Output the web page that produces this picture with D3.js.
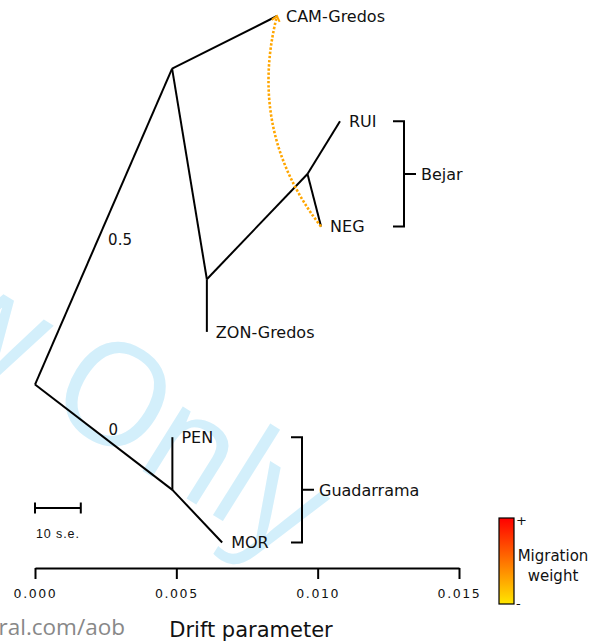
<!DOCTYPE html>
<html>
<head>
<meta charset="utf-8">
<script src="https://cdn.jsdelivr.net/npm/d3@7/dist/d3.min.js"></script>
<style>
  html, body { margin: 0; padding: 0; background: #fff; }
  svg { display: block; }
</style>
</head>
<body>
<svg id="chart" width="591" height="644"></svg>
<script>
// ---------- DATA ----------
const nodeIds   = ["root", "n1", "n2", "n3", "n4", "CAM-Gredos", "RUI", "NEG", "ZON-Gredos", "PEN", "MOR"];
const nodeDrift = [0, 0.00485, 0.00608, 0.00964, 0.00486, 0.00856, 0.01079, 0.01012, 0.00608, 0.00486, 0.00662];
const nodeRow   = [3.5, 0.5, 2.5, 1.5, 4.5, 0, 1, 2, 3, 4, 5];
const tipNames  = ["CAM-Gredos", "RUI", "NEG", "ZON-Gredos", "PEN", "MOR"];

const edgeFrom = ["root", "n1", "n1", "n2", "n2", "n3", "n3", "root", "n4", "n4"];
const edgeTo   = ["n1", "CAM-Gredos", "n2", "n3", "ZON-Gredos", "RUI", "NEG", "n4", "PEN", "MOR"];

const edgeLabelText = ["0.5", "0"];
const edgeLabelFrom = ["root", "root"];
const edgeLabelTo   = ["n1", "n4"];

const migFrom   = ["NEG"];
const migTo     = ["CAM-Gredos"];
const migWeight = [0.28];

const groupNames   = ["Bejar", "Guadarrama"];
const groupMembers = [["RUI", "NEG"], ["PEN", "MOR"]];

const xTicks = [0.000, 0.005, 0.010, 0.015];
const seValue = 0.000162;   // one standard error in drift units
const seMultiple = 10;

// ---------- LAYOUT / STYLE ----------
const svg = d3.select("#chart");
const x = d3.scaleLinear().domain([0, 0.015]).range([35, 459]);
const y = d3.scaleLinear().domain([0, 5]).range([16, 542.5]);
const wColor = d3.scaleLinear().domain([0, 1]).range(["#FFE600", "#FF0000"]);
const LABEL_FONT = "'DejaVu Sans', Verdana, sans-serif";

const pos = {};
nodeIds.forEach((id, i) => { pos[id] = [x(nodeDrift[i]), y(nodeRow[i])]; });

// watermark (background)
const wm = svg.append("g").attr("fill", "#d3effb")
  .attr("font-family", "'Open Sans', sans-serif").attr("font-size", 142);
const wmP = [42, 408];
wm.append("text").attr("transform", `translate(${wmP[0]},${wmP[1]}) rotate(32)`)
  .attr("letter-spacing", -4).text("Only");
wm.append("text").attr("transform", `translate(${wmP[0]},${wmP[1]}) rotate(32)`)
  .attr("text-anchor", "end").attr("dx", -32).text("Review");

svg.append("text").attr("x", 125).attr("y", 635).attr("text-anchor", "end")
  .attr("font-family", "'Open Sans', sans-serif").attr("font-size", 22.5).attr("fill", "#888")
  .text("http://mc.manuscriptcentral.com/aob");

// tree edges
svg.append("g").selectAll("line").data(edgeFrom.map((f, i) => [f, edgeTo[i]])).join("line")
  .attr("x1", d => pos[d[0]][0]).attr("y1", d => pos[d[0]][1])
  .attr("x2", d => pos[d[1]][0]).attr("y2", d => pos[d[1]][1])
  .attr("stroke", "#000").attr("stroke-width", 2).attr("stroke-linecap", "butt");

// edge labels
const edgeLabelOffset = [[16.5, 12.5], [9.5, -7.5]];
svg.append("g").selectAll("text").data(edgeLabelText).join("text")
  .attr("x", (d, i) => (pos[edgeLabelFrom[i]][0] + pos[edgeLabelTo[i]][0]) / 2 + edgeLabelOffset[i][0])
  .attr("y", (d, i) => (pos[edgeLabelFrom[i]][1] + pos[edgeLabelTo[i]][1]) / 2 + edgeLabelOffset[i][1])
  .attr("dy", "0.36em").attr("text-anchor", "middle")
  .attr("font-family", LABEL_FONT).attr("font-size", 15).attr("fill", "#111")
  .text(d => d);

// tip labels
svg.append("g").selectAll("text").data(tipNames).join("text")
  .attr("x", d => pos[d][0] + 9).attr("y", d => pos[d][1])
  .attr("dy", "0.36em")
  .attr("font-family", LABEL_FONT).attr("font-size", 16).attr("fill", "#111")
  .text(d => d);

// migration edges
const migG = svg.append("g");
migFrom.forEach((f, i) => {
  const p0 = pos[f], p2 = pos[migTo[i]];
  const dx = p2[0] - p0[0], dy = p2[1] - p0[1];
  const len = Math.hypot(dx, dy);
  const nx = dy / len, ny = -dx / len; // perpendicular
  const k = 0.245 * len;
  const c = [(p0[0] + p2[0]) / 2 + nx * k, (p0[1] + p2[1]) / 2 + ny * k];
  const path = d3.path();
  path.moveTo(p0[0], p0[1]);
  path.quadraticCurveTo(c[0], c[1], p2[0], p2[1]);
  const col = wColor(migWeight[i]);
  migG.append("path").attr("d", path.toString()).attr("fill", "none")
    .attr("stroke", col).attr("stroke-width", 2.6).attr("stroke-dasharray", "2.4 1.8");
  // arrow head at destination
  const ax = p2[0] - c[0], ay = p2[1] - c[1];
  const al = Math.hypot(ax, ay);
  const ux = ax / al, uy = ay / al;
  const s = 5;
  const ah = d3.path();
  ah.moveTo(p2[0] - ux * s - uy * s * 0.8, p2[1] - uy * s + ux * s * 0.8);
  ah.lineTo(p2[0], p2[1]);
  ah.lineTo(p2[0] - ux * s + uy * s * 0.8, p2[1] - uy * s - ux * s * 0.8);
  migG.append("path").attr("d", ah.toString()).attr("fill", "none")
    .attr("stroke", col).attr("stroke-width", 2);
});

// group brackets
const bracketX = { "Bejar": 404, "Guadarrama": 302 };
const bg = svg.append("g");
groupNames.forEach((g, i) => {
  const ys = groupMembers[i].map(m => pos[m][1]);
  const y0 = d3.min(ys), y1 = d3.max(ys), ym = (y0 + y1) / 2;
  const bx = bracketX[g];
  const p = d3.path();
  p.moveTo(bx - 11, y0); p.lineTo(bx, y0); p.lineTo(bx, y1); p.lineTo(bx - 11, y1);
  p.moveTo(bx, ym); p.lineTo(bx + 12, ym);
  bg.append("path").attr("d", p.toString()).attr("fill", "none")
    .attr("stroke", "#000").attr("stroke-width", 2);
  bg.append("text").attr("x", bx + 17).attr("y", ym).attr("dy", "0.36em")
    .attr("font-family", LABEL_FONT).attr("font-size", 16).attr("fill", "#111").text(g);
});

// scale bar
const sbY = 508;
const sb = svg.append("g").attr("stroke", "#000").attr("stroke-width", 2);
sb.append("line").attr("x1", x(0)).attr("x2", x(seValue * seMultiple)).attr("y1", sbY).attr("y2", sbY);
[0, seValue * seMultiple].forEach(v => sb.append("line")
  .attr("x1", x(v)).attr("x2", x(v)).attr("y1", sbY - 5.5).attr("y2", sbY + 5.5));
svg.append("text").attr("x", x(0) + 1).attr("y", 538)
  .attr("font-family", "'Liberation Sans', Arial, sans-serif").attr("font-size", 12.5)
  .attr("letter-spacing", 0.9).attr("fill", "#111").text(seMultiple + " s.e.");

// x axis
const axis = svg.append("g").attr("transform", "translate(0,568)")
  .call(d3.axisBottom(x).tickValues(xTicks).tickFormat(d3.format(".3f"))
    .tickSize(11).tickSizeOuter(0).tickPadding(10));
axis.select(".domain").attr("stroke", "#000").attr("stroke-width", 2);
axis.selectAll(".tick line").attr("stroke", "#000").attr("stroke-width", 2);
axis.selectAll(".tick text").attr("font-family", LABEL_FONT).attr("font-size", 12.5)
  .attr("letter-spacing", 1.6).attr("fill", "#111");

svg.append("text").attr("x", 251).attr("y", 637).attr("text-anchor", "middle")
  .attr("font-family", LABEL_FONT).attr("font-size", 21).attr("fill", "#111")
  .text("Drift parameter");

// legend colour bar
const defs = svg.append("defs");
const grad = defs.append("linearGradient").attr("id", "wgrad")
  .attr("x1", 0).attr("y1", 1).attr("x2", 0).attr("y2", 0);
d3.range(0, 1.0001, 0.1).forEach(t => grad.append("stop")
  .attr("offset", t).attr("stop-color", wColor(t)));
const lg = svg.append("g");
lg.append("rect").attr("x", 499).attr("y", 518).attr("width", 15).attr("height", 86)
  .attr("fill", "url(#wgrad)").attr("stroke", "#000").attr("stroke-width", 1.2);
lg.append("text").attr("x", 516).attr("y", 525).attr("font-family", LABEL_FONT)
  .attr("font-size", 13).attr("fill", "#111").text("+");
lg.append("text").attr("x", 516).attr("y", 608).attr("font-family", LABEL_FONT)
  .attr("font-size", 13).attr("fill", "#111").text("-");
lg.append("text").attr("x", 553).attr("y", 561).attr("text-anchor", "middle")
  .attr("font-family", LABEL_FONT).attr("font-size", 15).attr("fill", "#111").text("Migration");
lg.append("text").attr("x", 553).attr("y", 581).attr("text-anchor", "middle")
  .attr("font-family", LABEL_FONT).attr("font-size", 15).attr("fill", "#111").text("weight");
</script>
</body>
</html>
